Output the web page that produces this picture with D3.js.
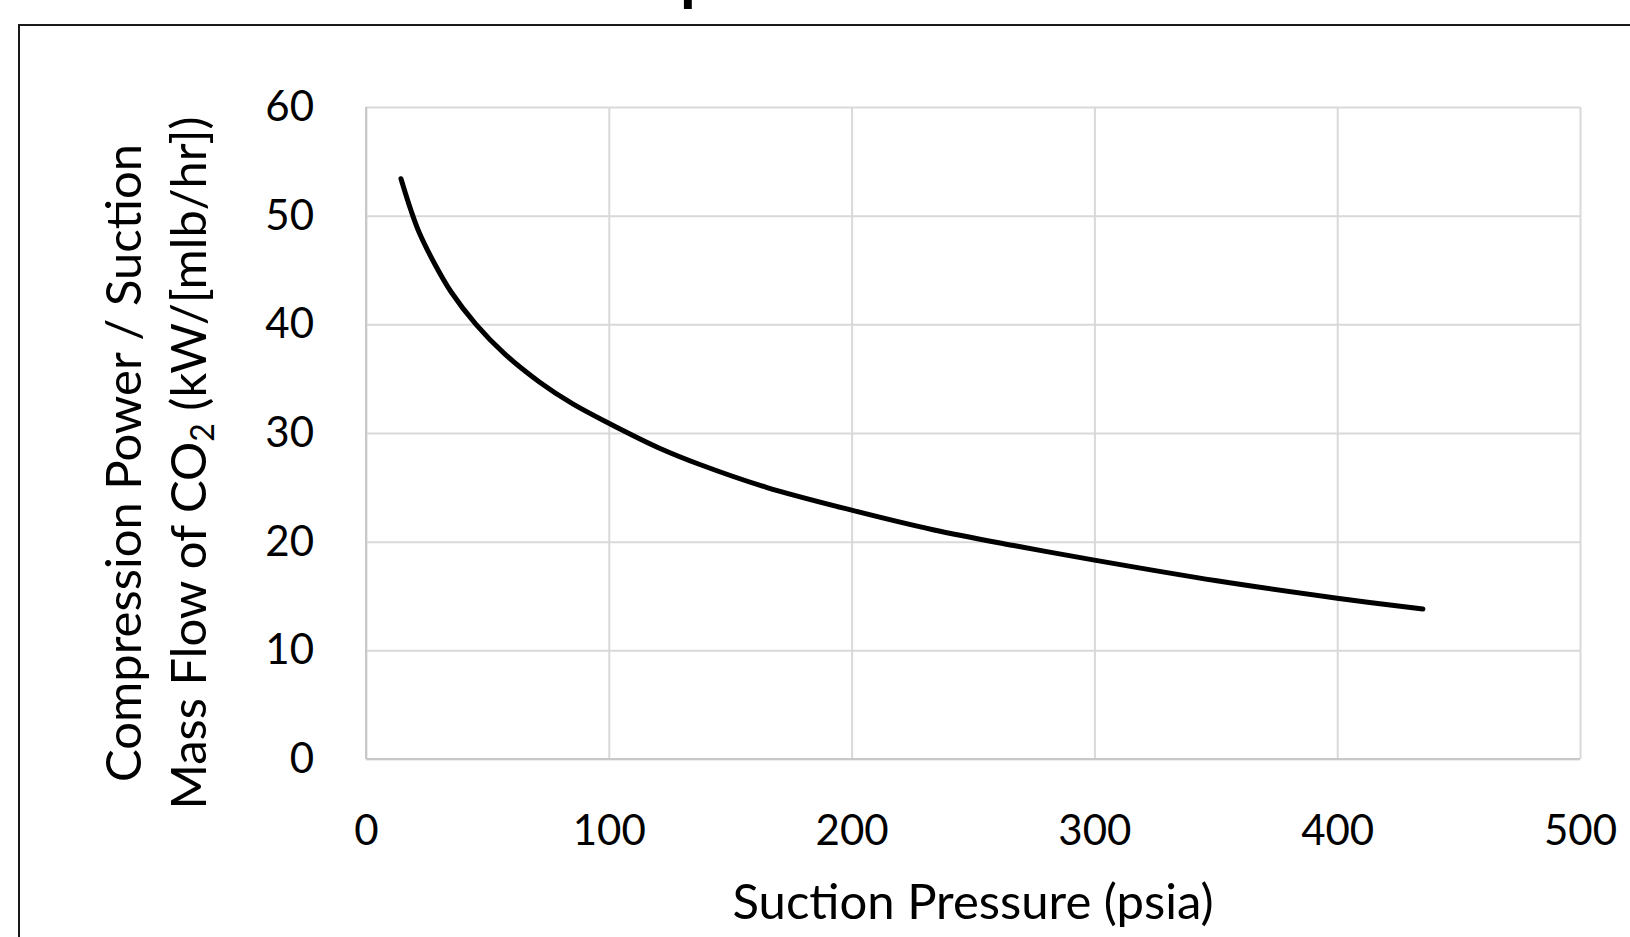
<!DOCTYPE html>
<html>
<head>
<meta charset="utf-8">
<script src="https://cdn.jsdelivr.net/npm/d3@7"></script>
<style>
  html, body { margin: 0; padding: 0; background: #fff; overflow: hidden; }
</style>
</head>
<body>
<div id="viz"></div>
<script>
// Valeurs
const pressures = [14.4, 18.5, 22, 28.2, 35, 45.3, 57, 71.4, 85, 100, 120.9, 137.5, 164.9, 200, 233.5, 267.9, 300, 350.4, 400, 435.3];
const powerRatios = [53.4, 50.5, 48.4, 45.6, 43.0, 40.0, 37.3, 34.7, 32.7, 30.9, 28.6, 27.1, 25.0, 22.9, 21.1, 19.6, 18.3, 16.4, 14.8, 13.8];
const xTicks = [0, 100, 200, 300, 400, 500];
const yTicks = [0, 10, 20, 30, 40, 50, 60];

const config = {
  width: 1214,
  height: 652,
  margin: { top: 107, left: 366 }
}
const fontFamily = 'Lato, "Open Sans", sans-serif';

const svg = d3.select('#viz').append('svg')
  .attr('width', 1630)
  .attr('height', 937)
  .attr('font-family', fontFamily);

// Cadre du graphique (coupé à droite et en bas)
svg.append('rect')
  .attr('x', 19)
  .attr('y', 25)
  .attr('width', 1700)
  .attr('height', 1000)
  .attr('fill', 'none')
  .attr('stroke', '#1a1a1a')
  .attr('stroke-width', 2);

// Titre, presque entièrement hors de la vue
const title = svg.append('text')
  .text('Compression Power')
  .attr('y', -1)
  .attr('font-size', 64)
  .attr('font-weight', 'bold')
  .attr('fill', '#000');
const pStart = title.node().getStartPositionOfChar(3).x;
title.attr('x', 680 - pStart);

const g = svg.append('g')
  .attr('transform', `translate(${config.margin.left}, ${config.margin.top})`);

const xScale = d3.scaleLinear().domain([0, 500]).range([0, config.width]);
const yScale = d3.scaleLinear().domain([0, 60]).range([config.height, 0]);

// Axes et grille
const yAxis = g.append('g').attr('class', 'y axis')
  .call(d3.axisLeft(yScale).tickValues(yTicks).tickSize(-config.width).tickPadding(52));
const xAxis = g.append('g').attr('class', 'x axis')
  .attr('transform', `translate(0, ${config.height})`)
  .call(d3.axisBottom(xScale).tickValues(xTicks).tickSize(-config.height).tickPadding(56));

g.selectAll('.axis .domain').remove();
g.selectAll('.axis').attr('font-family', fontFamily).attr('font-size', 42);
g.selectAll('.axis line').attr('stroke', '#d9d9d9').attr('stroke-width', 2);
g.selectAll('.axis text').attr('fill', '#000');

// Lignes d'axe (gauche et bas), un peu plus foncées
g.append('line')
  .attr('x1', 0).attr('x2', 0)
  .attr('y1', 0).attr('y2', config.height)
  .attr('stroke', '#c8c8c8').attr('stroke-width', 2);
g.append('line')
  .attr('x1', 0).attr('x2', config.width)
  .attr('y1', config.height).attr('y2', config.height)
  .attr('stroke', '#c8c8c8').attr('stroke-width', 2);

// Courbe
const data = pressures.map((p, i) => ({ x: p, y: powerRatios[i] }));
const line = d3.line()
  .x(d => xScale(d.x))
  .y(d => yScale(d.y))
  .curve(d3.curveCatmullRom.alpha(0.5));

g.append('path')
  .datum(data)
  .attr('d', line)
  .attr('fill', 'none')
  .attr('stroke', '#000')
  .attr('stroke-width', 5)
  .attr('stroke-linecap', 'round');

// Titres des axes
svg.append('text')
  .text('Suction Pressure (psia)')
  .attr('x', config.margin.left + config.width / 2)
  .attr('y', 919)
  .attr('text-anchor', 'middle')
  .attr('font-size', 49)
  .attr('fill', '#000');

const yTitle = svg.append('text')
  .attr('transform', 'translate(0, 463) rotate(-90)')
  .attr('text-anchor', 'middle')
  .attr('font-size', 49)
  .attr('fill', '#000');
yTitle.append('tspan')
  .attr('x', 0).attr('y', 141)
  .text('Compression Power / Suction');
const line2 = yTitle.append('tspan')
  .attr('x', 0).attr('y', 206);
line2.append('tspan').text('Mass Flow of CO');
line2.append('tspan').text('2').attr('font-size', 32).attr('dy', 8);
line2.append('tspan').text(' (kW/[mlb/hr])').attr('dy', -8);
</script>
</body>
</html>
